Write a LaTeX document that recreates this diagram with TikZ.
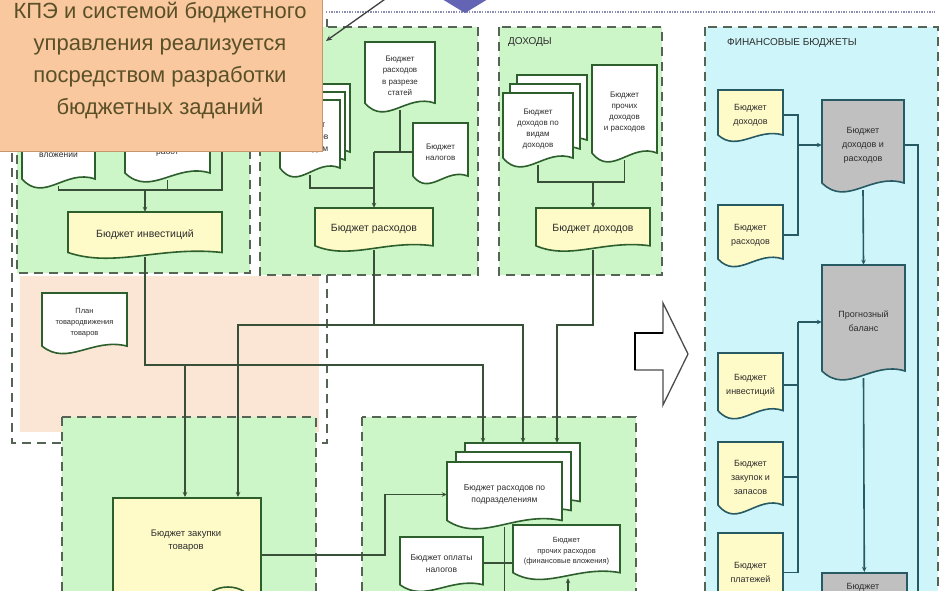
\documentclass[tikz,border=0pt]{standalone}
\usepackage{fontspec}
\setmainfont{Liberation Sans}
\usetikzlibrary{arrows.meta}
\definecolor{gfill}{RGB}{204,245,200}
\definecolor{pfill}{RGB}{251,229,212}
\definecolor{bfill}{RGB}{206,246,250}
\definecolor{pborder}{RGB}{85,100,85}
\definecolor{gborder}{RGB}{45,95,45}
\definecolor{gline}{RGB}{55,80,55}
\definecolor{bline}{RGB}{40,90,100}
\definecolor{yel}{RGB}{255,251,200}
\definecolor{grayd}{RGB}{192,192,192}
\definecolor{ofill}{RGB}{250,200,158}
\definecolor{oborder}{RGB}{200,150,110}
\definecolor{otext}{RGB}{90,80,40}
\definecolor{txt}{RGB}{45,45,45}
\definecolor{topline}{RGB}{140,140,175}
\definecolor{tri}{RGB}{100,100,180}
\tikzset{
  panel/.style={draw=pborder, dash pattern=on 9pt off 6pt, line width=2.2pt},
  docw/.style={draw=gborder, line width=1.6pt, fill=white},
  docy/.style={draw=gborder, line width=1.6pt, fill=yel},
  bdocy/.style={draw=bline, line width=1.6pt, fill=yel},
  bdocg/.style={draw=bline, line width=1.6pt, fill=grayd},
  doctext/.style={inner sep=0pt, align=center, font=\fontsize{8.5}{12}\selectfont, text=txt},
  lbl/.style={font=\fontsize{10.5}{12}\selectfont},
  bfont/.style={font=\fontsize{9}{14}\selectfont},
  hdr/.style={inner sep=0pt, font=\fontsize{10}{12}\selectfont, text=txt, anchor=west},
  conn/.style={draw=gline, line width=1.6pt},
  arr/.style={conn, -{Stealth[length=5pt,width=4.5pt]}},
  bconn/.style={draw=bline, line width=1.6pt},
  barr/.style={bconn, -{Stealth[length=5pt,width=4.5pt]}},
}
% name, x0, y0, x1, y1, shape style, text, node options
\newcommand{\DocShape}[8]{%
  \pgfmathsetmacro\mdW{#4-#2}%
  \pgfmathsetmacro\mdH{#5-#3}%
  \pgfmathsetmacro\mdA{min(0.1*\mdH,7)}%
  \path[#6] ({#2},{#3}) -- ({#4},{#3}) -- ({#4},{#5-\mdA})
     .. controls ({#2+0.6*\mdW},{#5-2.5*\mdA}) and ({#2+0.3*\mdW},{#5+2.5*\mdA}) .. ({#2},{#5-\mdA}) -- cycle;
  \node[doctext, minimum width=\mdW pt, minimum height=\mdH pt, #8] (#1) at ({(#2+#4)/2},{(#3+#5)/2}) {#7};
}
\begin{document}
\begin{tikzpicture}[x=1pt,y=-1pt]
\useasboundingbox (0,0) rectangle (942,591);
\clip (0,0) rectangle (942,591);
\fill[white] (0,0) rectangle (942,591);
% panels
\path[panel] (12,18) rectangle (327,443);
\fill[pfill] (20,276) rectangle (319,432);
\path[panel, fill=gfill] (17,20) rectangle (250,273);
\path[panel, fill=gfill] (260,27) rectangle (478,275);
\path[panel, fill=gfill] (499,27) rectangle (662,275);
\path[panel, fill=bfill] (705,27) rectangle (938,640);
\path[panel, fill=gfill] (62,417) rectangle (316,640);
\path[panel, fill=gfill] (362,417) rectangle (636,640);
\node[hdr] (h3) at (508,42) {ДОХОДЫ};
\node[hdr] (h4) at (727,43) {ФИНАНСОВЫЕ БЮДЖЕТЫ};
% panel 1
\DocShape{p1a}{22}{100}{95}{186}{docw}{Бюджет\\капитальных\\вложений}{}
\DocShape{p1b}{125}{100}{210}{180}{docw}{Бюджет\\проектных\\работ}{}
\DocShape{inv}{68}{212}{222}{257}{docy}{Бюджет инвестиций}{lbl}
\DocShape{plan}{42}{293}{127}{352}{docw}{План\\товародвижения\\товаров}{font=\fontsize{7.5}{11}\selectfont}
% panel 2
\DocShape{p2s-b2}{290}{84}{350}{159}{docw}{}{}
\DocShape{p2s-b1}{285}{92}{345}{167}{docw}{}{}
\DocShape{p2s}{280}{100}{340}{175}{docw}{Бюджет\\расходов\\по видам}{}
\DocShape{p2d}{365}{42}{435}{110}{docw}{Бюджет\\расходов\\в разрезе\\статей}{font=\fontsize{8}{11.5}\selectfont}
\DocShape{p2n}{413}{123}{468}{182}{docw}{Бюджет\\налогов}{font=\fontsize{8}{11.5}\selectfont}
\DocShape{rash}{315}{208}{433}{250}{docy}{Бюджет расходов}{lbl}
% panel 3
\DocShape{p3s-b2}{517}{75}{587}{147}{docw}{}{}
\DocShape{p3s-b1}{510}{84}{580}{156}{docw}{}{}
\DocShape{p3s}{503}{93}{573}{165}{docw}{Бюджет\\доходов по\\видам\\доходов}{font=\fontsize{8}{11}\selectfont}
\DocShape{p3d}{592}{65}{657}{160}{docw}{Бюджет\\прочих\\доходов\\и расходов}{font=\fontsize{8}{11}\selectfont}
\DocShape{doh}{536}{208}{650}{250}{docy}{Бюджет доходов}{lbl}
% bottom left
\node[draw=gborder, line width=1.6pt, fill=yel, minimum width=148pt, minimum height=150pt, anchor=north west, inner sep=0pt] (zak) at (112,497) {};
\node[doctext, font=\fontsize{9.5}{13}\selectfont] (zakt) at (186,541) {Бюджет закупки\\товаров};
\draw[gborder, line width=1.6pt] (228,603) ellipse [x radius=23, y radius=16];
% bottom middle
\DocShape{bs-b2}{465}{443}{580}{508}{docw}{}{}
\DocShape{bs-b1}{456}{452}{571}{517}{docw}{}{}
\DocShape{bs}{447}{462}{562}{527}{docw}{Бюджет расходов по\\подразделениям}{}
\DocShape{nal2}{400}{537}{483}{590}{docw}{Бюджет оплаты\\налогов}{}
\DocShape{proch}{513}{525}{620}{578}{docw}{Бюджет\\прочих расходов\\(финансовые вложения)}{font=\fontsize{7.5}{10.5}\selectfont}
% blue panel
\DocShape{bd1}{718}{90}{783}{140}{bdocy}{Бюджет\\доходов}{bfont}
\DocShape{br1}{718}{205}{783}{265}{bdocy}{Бюджет\\расходов}{bfont}
\DocShape{gdr}{822}{100}{904}{190}{bdocg}{Бюджет\\доходов и\\расходов}{bfont}
\DocShape{pb}{822}{265}{905}{378}{bdocg}{Прогнозный\\баланс}{bfont}
\DocShape{bi}{718}{353}{783}{417}{bdocy}{Бюджет\\инвестиций}{bfont}
\DocShape{bz}{718}{442}{783}{512}{bdocy}{Бюджет\\закупок и\\запасов}{bfont}
\DocShape{bp}{718}{533}{783}{612}{bdocy}{Бюджет\\платежей}{bfont}
\node[draw=bline, fill=grayd, line width=1.6pt, minimum width=85pt, minimum height=60pt, anchor=north west, inner sep=0pt] (gb) at (821,572) {};
\node[doctext, bfont] (gbt) at (863,587) {Бюджет};
% connectors panel 1
\coordinate (j1c) at (222,190);
\coordinate (j1t) at (222,140);
\draw[conn] (p1a.south) |- (j1c) -- (j1t);
\draw[conn] (p1b.south) -- (p1b.south |- j1c);
\draw[arr] (inv.north |- j1c) -- (inv.north);
% connectors to bottom
\coordinate (k1) at (483,365);
\coordinate (k2) at (185,365);
\coordinate (k4) at (238,325);
\coordinate (k5) at (523,325);
\coordinate (k6) at (557,325);
\draw[arr] (inv.south) |- (k1) -- (k1 |- bs-b2.north);
\draw[arr] (k2) -- (k2 |- zak.north);
\draw[arr] (rash.south) |- (k4) -- (k4 |- zak.north);
\draw[arr] (rash.south |- k4) -- (k5) -- (k5 |- bs-b2.north);
\draw[arr] (doh.south) |- (k6) -- (k6 |- bs-b2.north);
\coordinate (k7) at (385,555);
\draw[arr] (zak.east |- k7) -- (k7) |- (bs.west);
\coordinate (k8) at (505,600);
\coordinate (k9) at (505,563);
\draw[conn] (bs.south) -- (bs.south |- k8);
\draw[conn] (nal2.east |- k9) -- (proch.west |- k9);
\coordinate (k10) at (568,600);
\draw[arr] (k10) -- (k10 |- proch.south);
% panel 2 connectors
\coordinate (k11) at (374,188);
\coordinate (k12) at (400,152);
\coordinate (k13) at (374,152);
\draw[conn] (p2s.south) |- (k11);
\draw[conn] (p2d.south) -- (k12);
\draw[conn] (k13) -- (p2n.west |- k13);
\draw[arr] (k13) -- (rash.north);
% panel 3 connectors
\coordinate (k14) at (593,182);
\draw[conn] (p3s.south) |- (p3d.south |- k14) -- (p3d.south);
\draw[arr] (k14) -- (doh.north);
% blue connectors
\coordinate (m1) at (798,145);
\coordinate (m2) at (918,640);
\coordinate (m3) at (798,322);
\draw[bconn] (bd1.east) -| (m1);
\draw[bconn] (br1.east) -| (m1);
\draw[barr] (m1) -- (gdr.west |- m1);
\draw[bconn] (gdr.east) -| (m2);
\draw[barr] (gdr.south) -- (pb.north);
\draw[bconn] (bi.east) -| (m3);
\draw[bconn] (bz.east) -| (m3);
\draw[bconn] (bp.east) -| (m3);
\draw[barr] (m3) -- (pb.west |- m3);
\draw[barr] (pb.south) -- (gb.north);
% hollow arrow
\draw[line width=1.3pt, draw=black!70, fill=white] (635,333) -- (663,333) -- (663,303) -- (688,354) -- (663,405) -- (663,370) -- (635,370) -- cycle;
\draw[line width=2.6pt, black] (635,370) -- (635,333) -- (663,333);
% note
\node[fill=ofill, draw=oborder, line width=1pt, minimum width=330pt, minimum height=170pt, anchor=south east, inner sep=0pt] (note) at (323,152) {};
\node[font=\fontsize{22}{32}\selectfont, text=otext, align=center, inner sep=0pt] (notet) at (160,61) {КПЭ и системой бюджетного\\управления реализуется\\посредством разработки\\бюджетных заданий};
% top decorations
\coordinate (t1) at (326,12);
\coordinate (t2) at (935,12);
\draw[topline, line width=2.6pt, dash pattern=on 1.3pt off 1.3pt] (t1) -- (t2);
\fill[tri] (442,-1) -- (488,-1) -- (465,13) -- cycle;
\coordinate (d1) at (388,-3);
\coordinate (d2) at (326,41);
\draw[line width=1.3pt, black!75, -{Stealth[length=6pt,width=5pt]}] (d1) -- (d2);
\end{tikzpicture}
\end{document}
